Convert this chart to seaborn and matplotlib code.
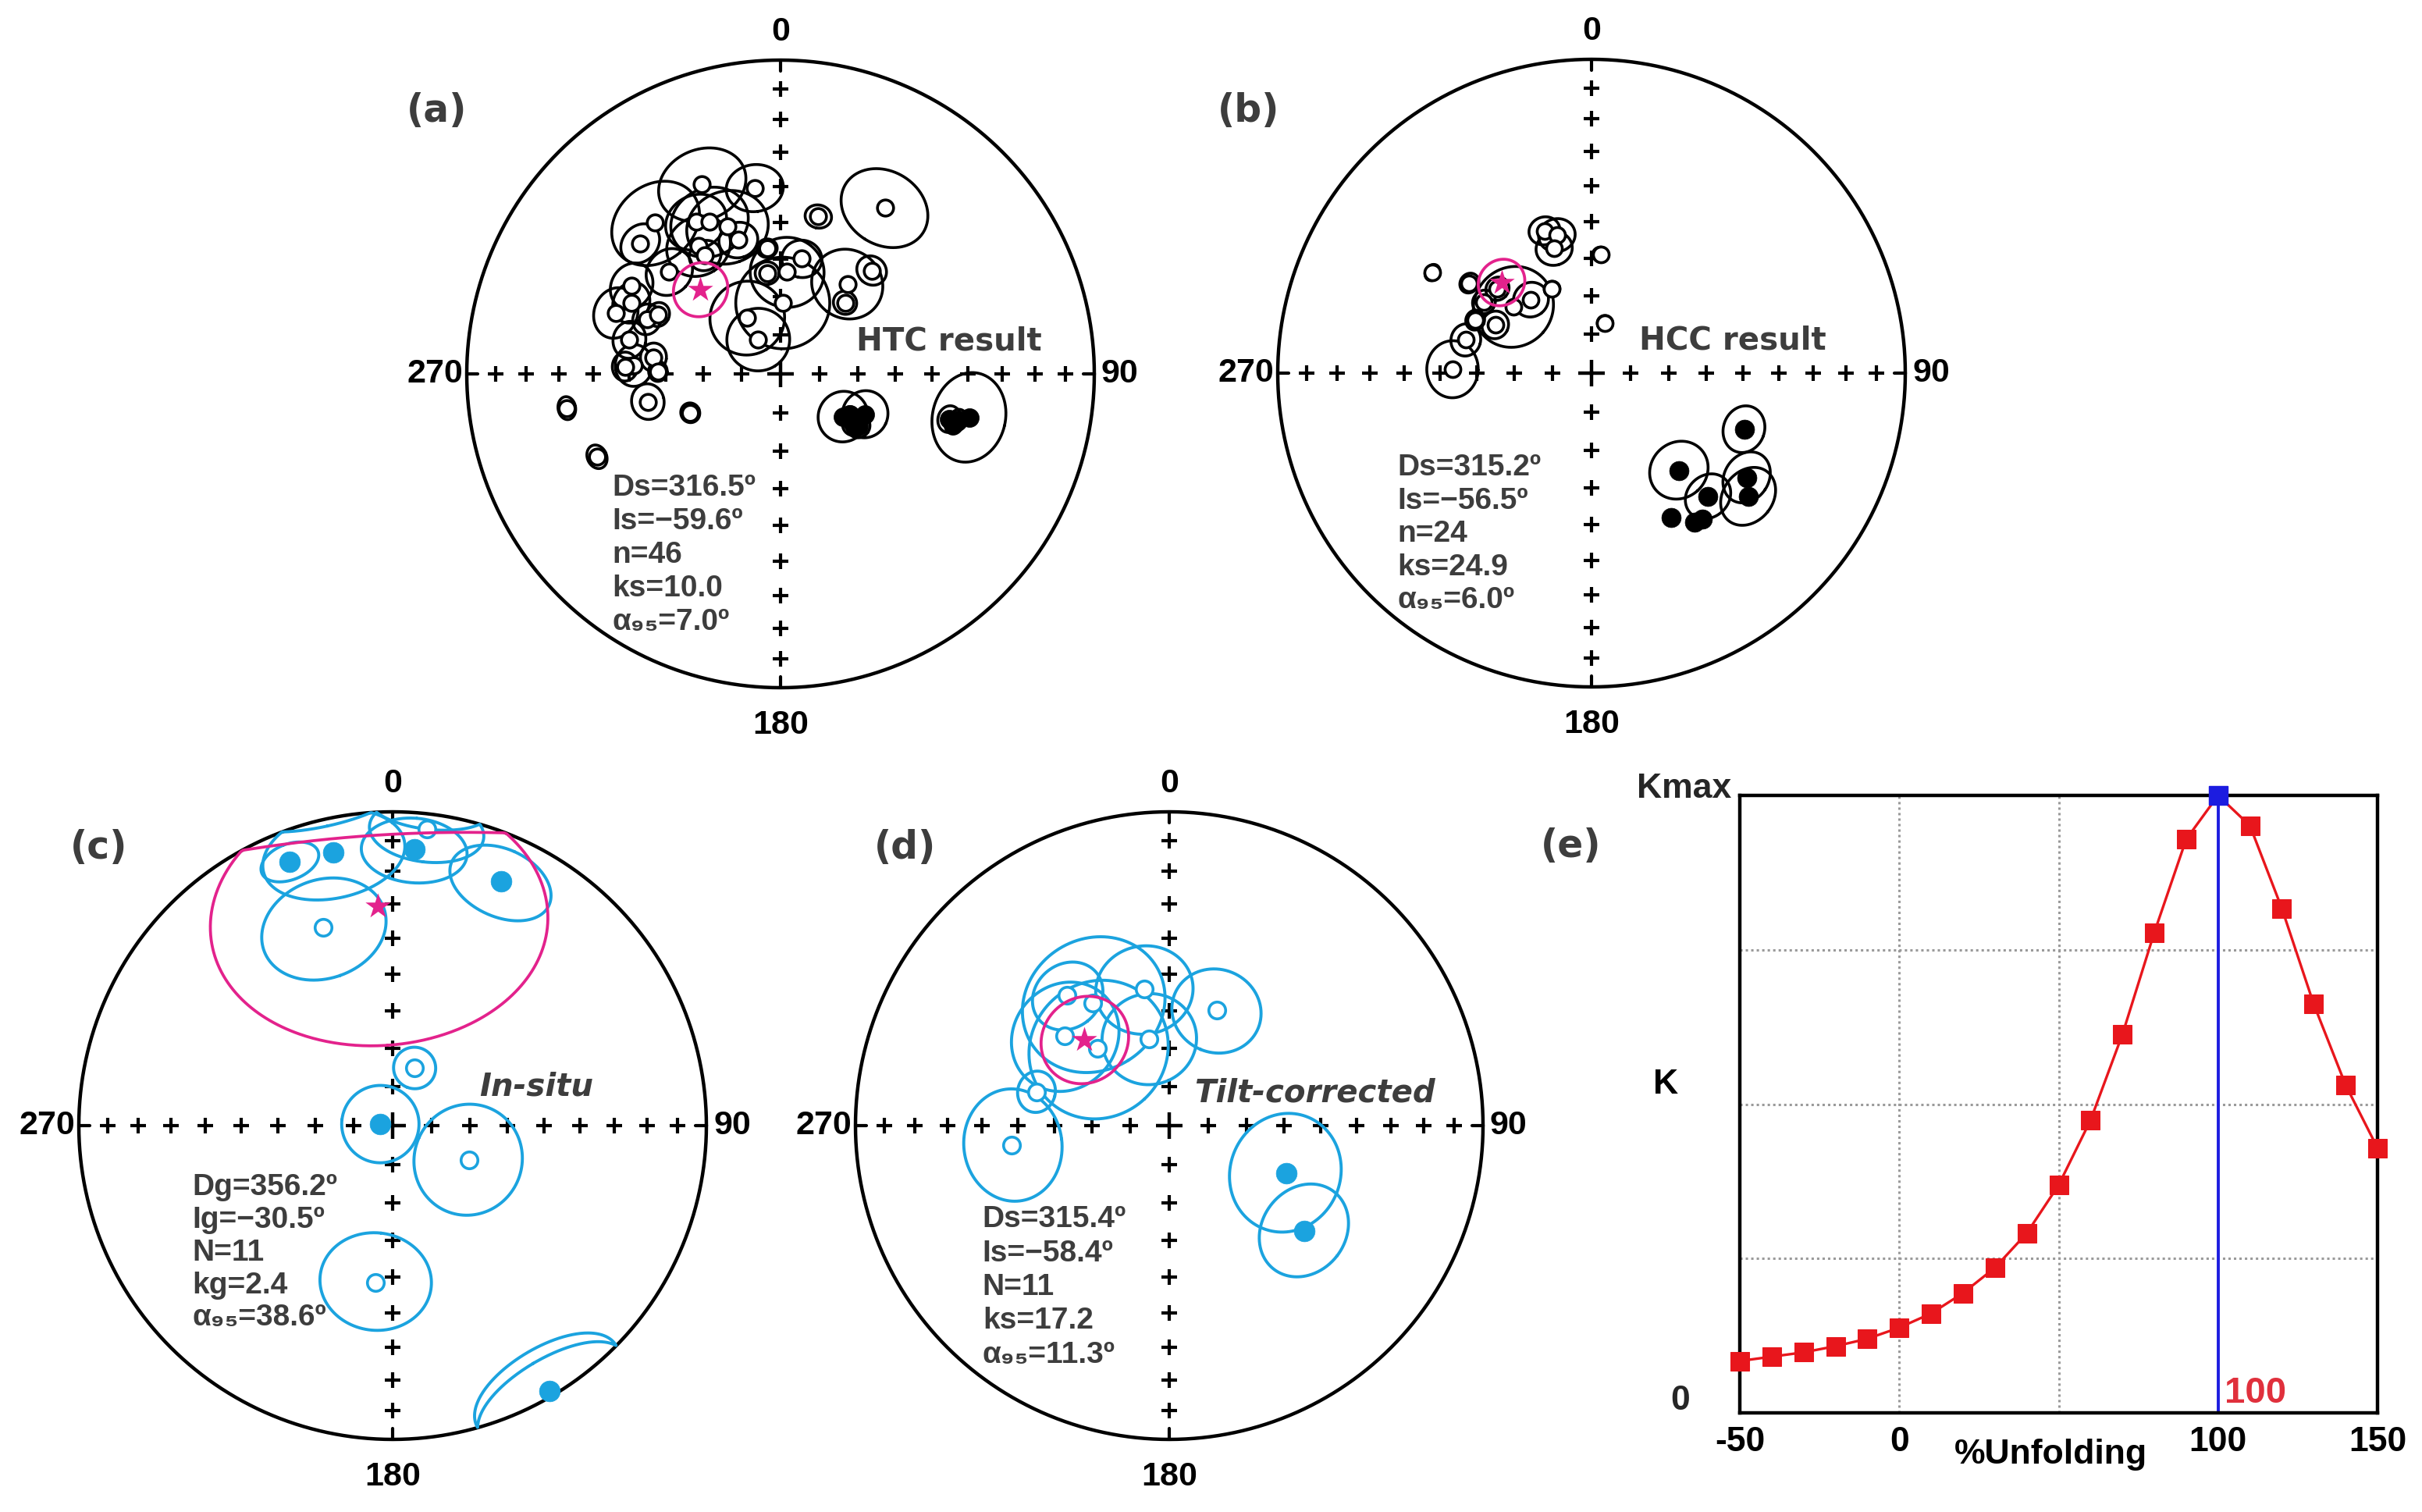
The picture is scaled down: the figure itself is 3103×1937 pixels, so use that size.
import numpy as np
import pandas as pd
import seaborn as sns
import matplotlib
matplotlib.use('Agg')
import matplotlib.pyplot as plt

# ---- data: site / sample directions (declination, inclination, alpha95) ----
# (a) HTC result
a_dec = [337.5, 352.1, 32.1, 13.5, 320.3, 330.9, 334.9, 312.9, 327.3, 342.5,
         353.9, 10.5, 3.7, 352.4, 41.4, 312.5, 300.5, 36.6, 42.2, 1.8,
         329.2, 327.0, 290.3, 295.5, 292.2, 295.9, 282.7, 273.3, 272.7, 277.5,
         271.2, 258.2, 260.9, 246.7, 245.7, 340.1, 327.5,
         124.3, 124.2, 115.5, 123.8, 120.4, 105.0, 104.5, 103.0, 106.0]
a_inc = [-34.8, -39.9, -37.4, -47.2, -37.4, -43.8, -45.5, -38.8, -49.9, -53.1,
         -56.9, -59.4, -63.4, -63.5, -53.8, -50.2, -44.1, -60.7, -65.0, -71.5,
         -73.1, -79.4, -43.3, -46.2, -52.0, -54.3, -49.1, -51.3, -48.9, -56.4,
         -57.9, -54.4, -31.6, -64.4, -36.0, -48.7, -53.1,
         70.3, 66.9, 65.6, 65.6, 69.2, 43.6, 41.1, 38.1, 42.0]
a_a95 = [10.3, 6.7, 10.6, 3.2, 11.0, 7.5, 9.5, 5.0, 8.0, 4.8,
         2.5, 5.0, 9.3, 3.0, 3.8, 6.0, 5.7, 9.1, 3.0, 12.0,
         9.6, 8.1, 6.1, 5.0, 3.8, 3.0, 4.5, 5.1, 3.5, 3.5,
         2.5, 4.4, 2.6, 2.5, 2.8, 10.0, 4.0,
         6.5, 3.0, 6.0, 3.0, 2.0, 3.2, 2.5, 10.5, 2.5]
a_mean = (316.5, -59.6, 7.0)
a_stats = ['Ds=316.5º', 'Is=\u221259.6º', 'n=46', 'ks=10.0', 'α\u2089\u2085=7.0º']

# (b) HCC result
b_dec = [341.7, 345.9, 343.3, 4.4, 302.3, 306.4, 311.9, 303.5, 320.5, 334.9,
         294.5, 296.6, 15.1, 284.8, 271.6, 310.3,
         110.2, 138.0, 136.6, 123.9, 128.2, 151.1, 145.4, 142.9]
b_inc = [-50.5, -52.6, -55.9, -58.9, -39.8, -50.0, -56.9, -56.2, -65.2, -65.8,
         -56.5, -61.9, -76.6, -55.9, -53.4, -63.2,
         47.0, 55.7, 45.0, 40.1, 36.5, 46.3, 41.7, 41.2]
b_a95 = [3.8, 4.5, 4.5, 2.0, 2.0, 2.5, 3.0, 3.0, 4.5, 2.0,
         2.5, 3.5, 2.0, 4.0, 7.0, 10.4,
         5.7, 7.5, 5.8, 6.3, 7.2, 0, 0, 0]
b_mean = (315.2, -56.5, 6.0)
b_stats = ['Ds=315.2º', 'Is=\u221256.5º', 'n=24', 'ks=24.9', 'α\u2089\u2085=6.0º']

# (c) site means, in-situ
c_dec = [338.7, 347.7, 4.5, 24.0, 277.0, 149.4, 340.7, 6.6, 20.9, 114.3, 186.2]
c_inc = [10.6, 11.9, 12.7, 16.0, 86.8, 2.0, -33.5, -5.5, -74.0, -68.3, -48.3]
c_a95 = [6.0, 14.5, 10.7, 11.0, 10.0, 15.0, 14.5, 11.0, 5.4, 14.2, 13.5]
c_mean = (356.2, -30.5, 38.6)
c_stats = ['Dg=356.2º', 'Ig=\u221230.5º', 'N=11', 'kg=2.4', 'α\u2089\u2085=38.6º']

# (d) site means, tilt-corrected
d_dec = [321.9, 328.0, 310.5, 317.1, 349.6, 347.0, 22.4, 284.3, 262.9, 112.1, 127.9]
d_inc = [-46.3, -52.0, -53.8, -62.6, -53.6, -66.8, -57.4, -54.0, -48.1, 56.9, 44.5]
d_a95 = [8.9, 18.0, 14.0, 18.0, 12.0, 12.0, 11.2, 5.1, 13.6, 14.9, 11.7]
d_mean = (315.4, -58.4, 11.3)
d_stats = ['Ds=315.4º', 'Is=\u221258.4º', 'N=11', 'ks=17.2', 'α\u2089\u2085=11.3º']

# (e) fold test
unfold = [-50, -40, -30, -20, -10, 0, 10, 20, 30, 40, 50,
          60, 70, 80, 90, 100, 110, 120, 130, 140, 150]
k_norm = [0.084, 0.091, 0.098, 0.108, 0.120, 0.138, 0.161, 0.194, 0.235, 0.291, 0.369,
          0.474, 0.613, 0.778, 0.929, 1.0, 0.951, 0.817, 0.662, 0.531, 0.429]

# ---- styling ----
W, H = 3103, 1937
R = 402
GREY = '#3d3d3d'
BLUE = '#1ba3df'
PINK = '#e3228c'
RED = '#e8161c'
WIDE = ['DejaVu Sans']

sns.set_theme(style='white')
plt.rcParams['font.family'] = ['Liberation Sans', 'DejaVu Sans']
plt.rcParams['font.weight'] = 'bold'

fig = plt.figure(figsize=(W / 100, H / 100), dpi=100)
fig.patch.set_facecolor('white')


def eq_area(inc):
    return np.sqrt(2) * np.sin(np.radians(90 - np.abs(inc)) / 2)


def project(dec, inc):
    r = eq_area(np.asarray(inc, dtype=float))
    d = np.radians(np.asarray(dec, dtype=float))
    return r * np.sin(d), r * np.cos(d)


def small_circle(dec, inc, a, n=360):
    d, i, a = np.radians([dec, inc, a])
    c = np.array([np.cos(i) * np.cos(d), np.cos(i) * np.sin(d), np.sin(i)])
    u = np.array([np.sin(i) * np.cos(d), np.sin(i) * np.sin(d), -np.cos(i)])
    v = np.array([-np.sin(d), np.cos(d), 0.0])
    t = np.linspace(0, 2 * np.pi, n + 1)
    p = np.cos(a) * c[:, None] + np.sin(a) * (np.cos(t) * u[:, None] + np.sin(t) * v[:, None])
    dd = np.degrees(np.arctan2(p[1], p[0]))
    ii = np.degrees(np.arcsin(np.clip(p[2], -1, 1)))
    return project(dd, ii)


def net(cx, cy):
    ax = fig.add_axes([(cx - R) / W, 1 - (cy + R) / H, 2 * R / W, 2 * R / H])
    ax.set_xlim(-1, 1)
    ax.set_ylim(-1, 1)
    ax.axis('off')
    t = np.linspace(0, 2 * np.pi, 721)
    ax.plot(np.cos(t), np.sin(t), color='black', lw=3.2, clip_on=False, zorder=1)
    rs = eq_area(np.arange(10, 90, 10))
    for s in (1, -1):
        ax.plot(np.zeros_like(rs), s * rs, '+', color='black', ms=15, mew=3, zorder=1)
        ax.plot(s * rs, np.zeros_like(rs), '+', color='black', ms=15, mew=3, zorder=1)
        ax.plot([0, 0], [s * 1, s * 0.965], color='black', lw=3, zorder=1)
        ax.plot([s * 1, s * 0.965], [0, 0], color='black', lw=3, zorder=1)
    ax.plot(0, 0, '+', color='black', ms=25, mew=3.2, zorder=1)
    lab = dict(fontsize=31, fontweight='bold', color='black')
    ax.text(0, 1 + 36 / R, '0', ha='center', va='center', **lab)
    ax.text(0, -1 - 48 / R, '180', ha='center', va='center', **lab)
    ax.text(-1 - 5 / R, 0, '270', ha='right', va='center', **lab)
    ax.text(1 + 9 / R, 0, '90', ha='left', va='center', **lab)
    return ax


def plot_dirs(ax, dec, inc, a95, mean, color, s_open, s_fill, lw_c):
    for d, i, a in zip(dec, inc, a95):
        if a > 0:
            x, y = small_circle(d, i, a)
            ax.plot(x, y, color=color, lw=lw_c, zorder=2, clip_on=False)
    x, y = project(dec, inc)
    df = pd.DataFrame({'x': x, 'y': y, 'lower': np.asarray(inc) > 0})
    sns.scatterplot(data=df[~df.lower], x='x', y='y', ax=ax, s=s_open, color='white',
                    edgecolor=color, linewidth=2.6, zorder=3, legend=False)
    sns.scatterplot(data=df[df.lower], x='x', y='y', ax=ax, s=s_fill, color=color,
                    edgecolor=color, linewidth=0.5, zorder=3, legend=False)
    mx, my = small_circle(*mean)
    ax.plot(mx, my, color=PINK, lw=2.7, zorder=4, clip_on=False)
    px, py = project([mean[0]], [mean[1]])
    ax.scatter(px, py, marker='*', s=600, color=PINK, linewidths=0, zorder=5)
    ax.set_xlim(-1, 1)
    ax.set_ylim(-1, 1)


def stats(ax, lines, x, y0, step):
    for k, line in enumerate(lines):
        ax.text(x, y0 - k * step, line, fontsize=28, fontweight='bold', color=GREY,
                ha='left', va='center')


def tag(ax, x, y, txt, italic=False):
    ax.text(x, y, txt, fontsize=29, fontweight='bold', family=WIDE,
            fontstyle='italic' if italic else 'normal', color=GREY, ha='left', va='center')


# (a)
ax_a = net(1000, 479)
plot_dirs(ax_a, a_dec, a_inc, a_a95, a_mean, 'black', 220, 300, 2.6)
stats(ax_a, a_stats, -0.537, -0.363, 0.107)
tag(ax_a, 0.241, 0.104, 'HTC result')

# (b)
ax_b = net(2039, 478)
plot_dirs(ax_b, b_dec, b_inc, b_a95, b_mean, 'black', 210, 320, 2.6)
stats(ax_b, b_stats, -0.619, -0.301, 0.106)
tag(ax_b, 0.152, 0.102, 'HCC result')

# (c)
ax_c = net(503, 1442)
plot_dirs(ax_c, c_dec, c_inc, c_a95, c_mean, BLUE, 240, 370, 2.8)
stats(ax_c, c_stats, -0.639, -0.197, 0.104)
tag(ax_c, 0.276, 0.122, 'In-situ', italic=True)

# (d)
ax_d = net(1498, 1442)
plot_dirs(ax_d, d_dec, d_inc, d_a95, d_mean, BLUE, 240, 370, 2.8)
stats(ax_d, d_stats, -0.595, -0.299, 0.108)
tag(ax_d, 0.080, 0.104, 'Tilt-corrected', italic=True)

# (e) fold test
ax_e = fig.add_axes([2229 / W, 1 - 1810 / H, 817 / W, 791 / H])
fold = pd.DataFrame({'unfold': unfold, 'k': k_norm})
ax_e.vlines([0, 50], 0, 1, colors='#9a9a9a', linestyles=(0, (1, 1.3)), lw=2.2, zorder=1)
ax_e.hlines([0.25, 0.5, 0.75], -50, 150, colors='#9a9a9a', linestyles=(0, (1, 1.3)), lw=2.2, zorder=1)
ax_e.axvline(100, color='#1c1ce0', lw=2.8, zorder=2)
sns.lineplot(data=fold, x='unfold', y='k', ax=ax_e, color=RED, lw=2.4, marker='s',
             markersize=17, markeredgecolor=RED, clip_on=False, zorder=3)
peak = fold.loc[fold.k.idxmax()]
ax_e.plot(peak.unfold, peak.k, 's', color='#1c1ce0', ms=17, clip_on=False, zorder=5)
ax_e.set_xlim(-50, 150)
ax_e.set_ylim(0, 1)
ax_e.set_xticks([-50, 0, 100, 150])
ax_e.set_xticklabels(['-50', '0', '100', '150'], fontsize=32, fontweight='bold')
ax_e.set_yticks([])
ax_e.tick_params(axis='x', length=0, pad=12, colors='black')
ax_e.set_xlabel('%Unfolding', fontsize=32, fontweight='bold', color='black')
ax_e.xaxis.set_label_coords(0.488, -0.042)
ax_e.set_ylabel('K', fontsize=32, fontweight='bold', color='black', rotation=0,
                ha='center', va='center')
ax_e.yaxis.set_label_coords(-0.116, 0.532)
ax_e.text(-0.0135, 1.011, 'Kmax', transform=ax_e.transAxes, fontsize=32,
          fontweight='bold', ha='right', va='center')
ax_e.text(-0.093, 0.02, '0', transform=ax_e.transAxes, fontsize=32,
          fontweight='bold', ha='center', va='center')
ax_e.text(102, 0.032, '100', fontsize=34, fontweight='bold', color='#e0303c',
          ha='left', va='center')
for sp in ax_e.spines.values():
    sp.set_color('black')
    sp.set_linewidth(3.2)
ax_e.set_facecolor('white')

# panel letters
for lbl, (px, py) in {'(a)': (560, 142), '(b)': (1600, 142), '(c)': (127, 1086),
                      '(d)': (1160, 1086), '(e)': (2013, 1084)}.items():
    fig.text(px / W, 1 - py / H, lbl, fontsize=35, fontweight='bold', family=WIDE,
             color=GREY, ha='center', va='center')

fig.savefig('out.png', dpi=100, facecolor='white')
